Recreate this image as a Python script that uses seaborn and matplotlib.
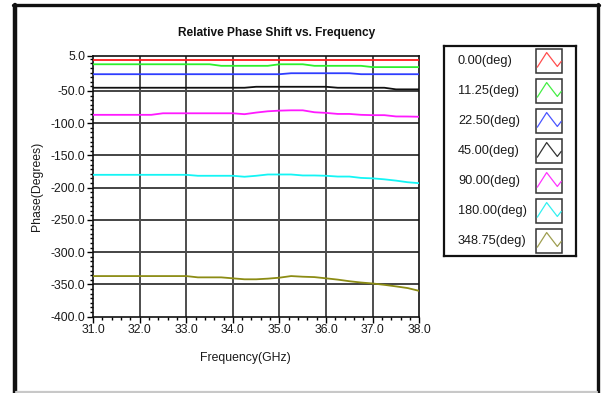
import numpy as np
import pandas as pd
import seaborn as sns
import matplotlib
matplotlib.use("Agg")
import matplotlib.pyplot as plt
from matplotlib.ticker import FixedLocator, MultipleLocator, FuncFormatter
from matplotlib.lines import Line2D
from matplotlib.patches import Rectangle

# ---------------- data ----------------
freq = [31.0, 31.25, 31.5, 31.75, 32.0, 32.25, 32.5, 32.75, 33.0, 33.25,
        33.5, 33.75, 34.0, 34.25, 34.5, 34.75, 35.0, 35.25, 35.5, 35.75,
        36.0, 36.25, 36.5, 36.75, 37.0, 37.25, 37.5, 37.75, 38.0]

series_labels = ["0.00(deg)", "11.25(deg)", "22.50(deg)", "45.00(deg)",
                 "90.00(deg)", "180.00(deg)", "348.75(deg)"]

phase_0 = [-2.0] * 29
phase_11 = [-8.6] * 11 + [-11.0] * 5 + [-8.6] * 3 + [-11.0] * 5 + [-13.0] * 5
phase_22 = [-24.0] * 17 + [-22.5] * 6 + [-24.0] * 6
phase_45 = [-45.0] * 14 + [-43.5] * 7 + [-45.0] * 5 + [-47.5] * 3
phase_90 = [-87.0, -87.0, -87.0, -87.0, -87.0, -87.0, -84.6, -84.6, -84.6, -84.6,
            -84.6, -84.6, -84.6, -86.0, -83.5, -81.5, -80.5, -80.0, -80.0, -83.0,
            -84.0, -85.6, -85.6, -87.0, -87.5, -87.5, -89.5, -89.6, -90.0]
phase_180 = [-180.0] * 9 + [-181.5, -181.5, -181.5, -181.5, -183.0, -181.5, -179.5,
                            -179.5, -179.5, -181.0, -181.0, -181.5, -182.7, -182.7,
                            -184.8, -185.5, -187.0, -189.0, -191.5, -193.0]
phase_348 = [-337.0] * 9 + [-339.0, -339.0, -339.0, -340.5, -342.0, -342.0, -341.0,
                            -339.5, -337.0, -338.0, -338.6, -340.5, -342.5, -345.0,
                            -347.0, -348.5, -350.6, -353.0, -355.6, -360.0]

all_phases = [phase_0, phase_11, phase_22, phase_45, phase_90, phase_180, phase_348]

line_colors = ["#ff1a1a", "#2ef02e", "#2f3dff", "#111111", "#ff1aff", "#14f5f5", "#8c8c14"]
swatch_colors = ["#ff4d4d", "#44ee44", "#4a55ff", "#333333", "#ff33ff", "#33f0f0", "#9e9e50"]

yticks = [5.0, -50.0, -100.0, -150.0, -200.0, -250.0, -300.0, -350.0, -400.0]
xticks = [31.0, 32.0, 33.0, 34.0, 35.0, 36.0, 37.0, 38.0]

df = pd.DataFrame({
    "Frequency": np.tile(freq, len(series_labels)),
    "Phase": np.concatenate(all_phases),
    "Series": np.repeat(series_labels, len(freq)),
})

# ---------------- style ----------------
sns.set_theme(style="white")
plt.rcParams["font.family"] = ["Liberation Sans", "DejaVu Sans"]
plt.rcParams["axes.unicode_minus"] = False

W, H = 602, 393
fig = plt.figure(figsize=(W / 100, H / 100), dpi=100)
fig.patch.set_facecolor("white")

def fr(x0, y0, x1, y1):
    return [x0 / W, 1 - y1 / H, (x1 - x0) / W, (y1 - y0) / H]

ax = fig.add_axes(fr(93, 55.5, 419.3, 316.7))
sns.lineplot(data=df, x="Frequency", y="Phase", hue="Series",
             palette=dict(zip(series_labels, line_colors)),
             hue_order=series_labels, linewidth=1.3, ax=ax, legend=False,
             zorder=3)

ax.set_xlim(31.0, 38.0)
ax.set_ylim(-400.0, 5.0)

ax.yaxis.set_major_locator(FixedLocator(yticks))
ax.yaxis.set_minor_locator(MultipleLocator(50 / 7))
ax.xaxis.set_major_locator(FixedLocator(xticks))
ax.xaxis.set_minor_locator(MultipleLocator(0.2))
fmt = FuncFormatter(lambda v, p: f"{v:.1f}")
ax.yaxis.set_major_formatter(fmt)
ax.xaxis.set_major_formatter(fmt)

ax.tick_params(axis="both", which="major", direction="out", length=4,
               width=1.0, color="black", labelsize=8.8, labelcolor="#1a1a1a", pad=1.5,
               left=True, bottom=True)
ax.tick_params(axis="both", which="minor", direction="out", length=2.5,
               width=1.0, color="black", left=True, bottom=True)

# grid lines
for v in yticks[1:-1]:
    ax.axhline(v, color="#111111", linewidth=1.1, zorder=2)
for v in xticks[1:-1]:
    ax.axvline(v, color="#4d4d4d", linewidth=1.4, zorder=2)

for s in ax.spines.values():
    s.set_color("#111111")
    s.set_linewidth(1.2)

ax.set_xlabel("Frequency(GHz)", fontsize=8.8, color="#1a1a1a")
ax.xaxis.set_label_coords(0.468, -0.137)
ax.set_ylabel("Phase(Degrees)", fontsize=8.8, color="#1a1a1a")
ax.yaxis.set_label_coords(-0.152, 0.5)
fig.text(277 / W, 1 - 33 / H, "Relative Phase Shift vs. Frequency", fontsize=8.6,
         fontweight="bold", color="#111111", ha="center", va="center")

# ---------------- legend panel ----------------
lx0, ly0, lx1, ly1 = 444, 45.7, 575.7, 255.7
lax = fig.add_axes(fr(lx0, ly0, lx1, ly1))
lax.set_xlim(0, lx1 - lx0)
lax.set_ylim(ly1 - ly0, 0)
lax.set_xticks([])
lax.set_yticks([])
for s in lax.spines.values():
    s.set_color("#111111")
    s.set_linewidth(1.6)

bx0, bx1 = 92, 118
zig_x = np.array([0.05, 0.41, 0.82, 0.97])
zig_y = np.array([0.77, 0.16, 0.74, 0.53])
for i, (lab, c) in enumerate(zip(series_labels, swatch_colors)):
    cy = 15 + 30 * i
    lax.text(14, cy, lab, fontsize=9.2, color="#1a1a1a", va="center", ha="left")
    lax.add_patch(Rectangle((bx0, cy - 12), bx1 - bx0, 24, fill=False,
                            edgecolor="#333333", linewidth=1.1))
    lax.plot(bx0 + zig_x * (bx1 - bx0), cy - 12 + zig_y * 24, color=c, linewidth=0.9)

# ---------------- outer frame ----------------
def fline(x0, y0, x1, y1, **kw):
    fig.add_artist(Line2D([x0 / W, x1 / W], [1 - y0 / H, 1 - y1 / H],
                          transform=fig.transFigure, **kw))

fline(14.5, 4.5, 14.5, 393, color="#111111", linewidth=3.2)
fline(13, 4.8, 599, 4.8, color="#111111", linewidth=2.4)
fline(597.8, 3.5, 597.8, 393, color="#111111", linewidth=2.4)
fline(16, 391.6, 596.5, 391.6, color="#c8c8c8", linewidth=1.6)

fig.savefig("out.png", dpi=100, facecolor="white")
